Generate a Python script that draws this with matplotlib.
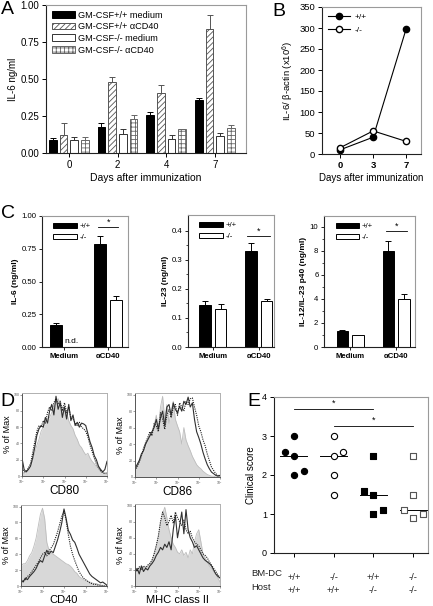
import numpy as np
import matplotlib
matplotlib.use("Agg")
import matplotlib.pyplot as plt

plt.rcParams['font.family'] = ['Liberation Sans', 'DejaVu Sans']
plt.rcParams['hatch.linewidth'] = 0.6
plt.rcParams['mathtext.fontset'] = 'custom'
plt.rcParams['mathtext.rm'] = 'Liberation Sans'

W, H = 433, 606
fig = plt.figure(figsize=(W / 100, H / 100), dpi=100)

def axpx(l, t, r, b):
    return fig.add_axes([l / W, 1 - b / H, (r - l) / W, (b - t) / H])

def style_spines(ax, light='#9a9a9a', lw=0.8):
    for s in ['top', 'right']:
        ax.spines[s].set_color(light)
        ax.spines[s].set_linewidth(lw)
    for s in ['left', 'bottom']:
        ax.spines[s].set_color('#222222')
        ax.spines[s].set_linewidth(lw)

# ---------------- DATA ----------------
# Panel A
a_days = ['0', '2', '4', '7']
a_series = ['GM-CSF+/+ medium', 'GM-CSF+/+ \u03b1CD40', 'GM-CSF-/- medium', 'GM-CSF-/- \u03b1CD40']
a_wt_med = [0.09, 0.175, 0.26, 0.355]
a_wt_med_err = [0.01, 0.025, 0.02, 0.015]
a_wt_cd40 = [0.12, 0.48, 0.405, 0.835]
a_wt_cd40_err = [0.085, 0.035, 0.055, 0.10]
a_ko_med = [0.09, 0.13, 0.095, 0.115]
a_ko_med_err = [0.02, 0.03, 0.025, 0.02]
a_ko_cd40 = [0.085, 0.23, 0.16, 0.17]
a_ko_cd40_err = [0.02, 0.025, 0.005, 0.02]

# Panel B
b_days = ['0', '3', '7']
b_wt = [10, 40, 298]
b_ko = [15, 55, 30]

# Panel C
c_groups = ['Medium', '\u03b1CD40']
c1_wt = [0.165, 0.79]
c1_wt_err = [0.015, 0.06]
c1_ko = [0.0, 0.36]
c1_ko_err = [0.0, 0.03]
c2_wt = [0.145, 0.33]
c2_wt_err = [0.013, 0.03]
c2_ko = [0.132, 0.157]
c2_ko_err = [0.015, 0.008]
c3_wt = [1.35, 8.0]
c3_wt_err = [0.05, 0.85]
c3_ko = [1.0, 4.0]
c3_ko_err = [0.0, 0.45]

# Panel D (histograms, log10 fluorescence 0..4, % of max)
d_x = np.linspace(0, 4, 41)
d_markers = ['CD80', 'CD86', 'CD40', 'MHC class II']
d_gray = {
    'CD80': [5, 3, 5, 8, 12, 18, 28, 38, 45, 55, 60, 65, 70, 72, 78, 85, 90, 95, 88, 85, 80,
             78, 68, 62, 58, 50, 45, 38, 35, 30, 26, 28, 22, 18, 15, 12, 10, 8, 5, 3, 2],
    'CD86': [8, 15, 20, 25, 30, 38, 45, 52, 55, 62, 75, 60, 85, 98, 70, 88, 65, 80, 92, 70, 62,
             55, 40, 60, 45, 38, 32, 25, 20, 15, 12, 10, 7, 5, 3, 2, 1, 1, 0, 0, 0],
    'CD40': [25, 28, 28, 32, 38, 42, 50, 60, 75, 90, 98, 85, 55, 45, 42, 40, 38, 36, 34, 32, 30,
             28, 27, 25, 22, 18, 16, 12, 10, 8, 7, 6, 5, 4, 3, 3, 2, 1, 1, 0, 0],
    'MHC class II': [20, 18, 22, 20, 22, 24, 25, 28, 32, 40, 50, 62, 78, 90, 98, 85, 70, 60, 52, 48, 42,
                     40, 45, 38, 42, 35, 45, 40, 55, 65, 70, 55, 40, 35, 30, 25, 22, 18, 15, 10, 5],
}
d_solid = {
    'CD80': [22, 8, 5, 8, 12, 22, 35, 50, 58, 62, 60, 72, 65, 80, 88, 75, 98, 82, 90, 72, 85,
             70, 88, 68, 75, 62, 66, 60, 65, 64, 62, 52, 42, 35, 25, 20, 12, 8, 5, 8, 18],
    'CD86': [10, 15, 20, 28, 32, 40, 45, 50, 55, 60, 70, 58, 72, 80, 62, 85, 88, 75, 90, 82, 78,
             86, 80, 92, 88, 97, 85, 90, 70, 55, 48, 40, 30, 22, 15, 10, 6, 4, 2, 1, 2],
    'CD40': [8, 5, 10, 8, 12, 15, 18, 22, 28, 32, 30, 38, 45, 40, 44, 42, 50, 58, 68, 80, 97,
             85, 70, 65, 58, 55, 48, 40, 35, 30, 25, 20, 15, 12, 10, 8, 6, 4, 5, 3, 1],
    'MHC class II': [18, 22, 15, 25, 18, 22, 20, 25, 28, 32, 38, 42, 48, 45, 52, 48, 55, 45, 70, 88, 60,
                     75, 92, 65, 95, 70, 60, 55, 48, 50, 45, 40, 35, 32, 30, 28, 25, 20, 15, 12, 10],
}
d_dotted = {
    'CD80': [10, 5, 6, 10, 15, 28, 42, 55, 62, 60, 68, 65, 78, 85, 80, 90, 95, 88, 92, 80, 90,
             78, 85, 72, 70, 65, 62, 66, 60, 58, 55, 48, 38, 30, 22, 15, 10, 6, 4, 3, 4],
    'CD86': [8, 12, 18, 25, 35, 42, 48, 55, 50, 65, 62, 55, 78, 70, 58, 75, 82, 72, 85, 88, 75,
             90, 85, 80, 92, 88, 95, 96, 85, 75, 62, 55, 45, 38, 28, 20, 12, 8, 4, 2, 1],
    'CD40': [5, 6, 8, 12, 14, 18, 22, 26, 30, 35, 40, 42, 38, 44, 48, 52, 60, 68, 78, 88, 95,
             82, 65, 50, 40, 32, 25, 18, 14, 10, 8, 6, 4, 3, 2, 2, 1, 1, 0, 0, 0],
    'MHC class II': [22, 18, 24, 20, 25, 22, 26, 28, 32, 40, 50, 62, 80, 92, 85, 75, 80, 88, 78, 92, 85,
                     80, 75, 82, 70, 65, 68, 60, 55, 52, 50, 45, 40, 38, 35, 30, 26, 22, 18, 14, 10],
}

# Panel E
e_bmdc = ['+/+', '-/-', '+/+', '-/-']
e_host = ['+/+', '+/+', '-/-', '-/-']
e_scores = [[2.6, 3.0, 2.5, 2.0, 2.1],
            [3.0, 2.5, 2.6, 2.0, 1.5],
            [2.5, 1.6, 1.5, 1.0, 1.1],
            [2.5, 1.5, 1.1, 0.9, 1.0]]
e_jitter = [[-0.23, 0, 0, 0, 0.25],
            [0, 0, 0.24, 0, 0],
            [0, -0.23, 0, 0, 0.25],
            [0, 0, -0.24, 0, 0.24]]
e_medians = [2.5, 2.5, 1.5, 1.1]

# ---------------- PANEL A ----------------
axA = axpx(46, 5, 246, 153)
style_spines(axA)
xg = np.arange(len(a_days))
pitch, bw = 0.22, 0.155
vals = [a_wt_med, a_wt_cd40, a_ko_med, a_ko_cd40]
errs = [a_wt_med_err, a_wt_cd40_err, a_ko_med_err, a_ko_cd40_err]
faces = ['black', 'white', 'white', 'white']
edges = ['black', '#555555', '#333333', '#666666']
hatches = [None, '//////', None, '++++']
for i in range(4):
    xs = xg + (i - 1.5) * pitch
    axA.bar(xs, vals[i], bw, color=faces[i], edgecolor=edges[i], hatch=hatches[i],
            linewidth=0.7, label=a_series[i], zorder=2)
    axA.errorbar(xs, vals[i], yerr=[np.zeros(4), errs[i]], fmt='none',
                 ecolor=edges[i], elinewidth=0.7, capsize=2, capthick=0.7, zorder=1)
axA.set_xlim(-0.47, 3.64)
axA.set_ylim(0, 1.0)
axA.set_yticks([0, 0.25, 0.5, 0.75, 1.0])
axA.set_yticklabels(['0.00', '0.25', '0.50', '0.75', '1.00'])
axA.set_xticks(xg)
axA.set_xticklabels(a_days)
axA.tick_params(labelsize=7, length=3, width=0.7, pad=2)
axA.set_ylabel('IL-6 ng/ml', fontsize=7, labelpad=2)
axA.set_xlabel('Days after immunization', fontsize=7.5, labelpad=2)
axA.legend(loc='upper left', frameon=False, fontsize=6.6, handlelength=2.6, handleheight=0.75,
           handletextpad=0.3, labelspacing=0.3, borderaxespad=0.2, bbox_to_anchor=(0.0, 1.0))

# ---------------- PANEL B ----------------
axB = axpx(322, 7, 421, 154)
style_spines(axB)
xb = np.arange(len(b_days))
axB.plot(xb, b_wt, '-o', color='black', lw=0.8, ms=4.5, mfc='black', mec='black', label='+/+')
axB.plot(xb, b_ko, '-o', color='black', lw=0.8, ms=4.5, mfc='white', mec='black', label='-/-')
axB.set_xlim(-0.55, 2.45)
axB.set_ylim(0, 350)
axB.set_yticks(np.arange(0, 351, 50))
axB.set_xticks(xb)
axB.set_xticklabels(b_days, fontweight='bold')
axB.tick_params(labelsize=6.8, length=3, width=0.7, pad=2)
axB.set_ylabel('IL-6/ \u03b2-actin (x10$^6$)', fontsize=6.8, labelpad=2)
axB.set_xlabel('Days after immunization', fontsize=7, labelpad=2)
axB.legend(loc='upper left', frameon=False, fontsize=6, handlelength=2.6,
           handletextpad=0.6, labelspacing=0.6, borderaxespad=0.3)

# ---------------- PANEL C ----------------
def panel_c(ax, wt, wte, ko, koe, ylim, yticks, yticklabels, ylabel, xlim, off, bw, sig_y, sig_half, minor=None):
    style_spines(ax)
    xc = np.arange(2)
    ax.bar(xc - off, wt, bw, color='black', edgecolor='black', lw=0.7, label='+/+', zorder=2)
    ax.bar(xc + off, ko, bw, color='white', edgecolor='black', lw=0.7, label='-/-', zorder=2)
    ax.errorbar(xc - off, wt, yerr=[np.zeros(2), wte], fmt='none', ecolor='black',
                elinewidth=0.7, capsize=2, capthick=0.7, zorder=1)
    kmask = np.array(koe) > 0
    ax.errorbar((xc + off)[kmask], np.array(ko)[kmask], yerr=[np.zeros(kmask.sum()), np.array(koe)[kmask]],
                fmt='none', ecolor='black', elinewidth=0.7, capsize=2, capthick=0.7, zorder=1)
    ax.set_xlim(*xlim)
    ax.set_ylim(*ylim)
    ax.set_yticks(yticks)
    ax.set_yticklabels(yticklabels)
    if minor is not None:
        ax.set_yticks(minor, minor=True)
    ax.set_xticks(xc)
    ax.set_xticklabels(c_groups, fontweight='bold')
    ax.tick_params(labelsize=5.6, length=2.5, width=0.6, pad=1.5)
    ax.tick_params(which='minor', length=1.5, width=0.5)
    ax.set_ylabel(ylabel, fontsize=6, fontweight='bold', labelpad=2)
    ax.plot([1 - sig_half, 1 + sig_half], [sig_y, sig_y], color='black', lw=0.6)
    ax.text(1, sig_y, '*', ha='center', va='bottom', fontsize=6.5)
    ax.legend(loc='upper left', frameon=False, fontsize=5.6, handlelength=3.0, handleheight=0.6,
              handletextpad=0.4, labelspacing=0.5, borderaxespad=0.5, bbox_to_anchor=(0.05, 1.0))
    return ax

axC1 = axpx(42, 216, 128, 347)
panel_c(axC1, c1_wt, c1_wt_err, c1_ko, c1_ko_err, (0, 1.0), [0, 0.25, 0.5, 0.75, 1.0],
        ['0.00', '0.25', '0.50', '0.75', '1.00'], 'IL-6 (ng/ml)', (-0.5, 1.45), 0.18, 0.27, 0.915, 0.23)
axC1.text(0.18, 0.015, 'n.d.', ha='center', va='bottom', fontsize=6)

axC2 = axpx(188, 215, 274, 347)
panel_c(axC2, c2_wt, c2_wt_err, c2_ko, c2_ko_err, (0, 0.455), [0, 0.1, 0.2, 0.3, 0.4],
        ['0.0', '0.1', '0.2', '0.3', '0.4'], 'IL-23 (ng/ml)', (-0.54, 1.33), 0.17, 0.25, 0.383, 0.25,
        minor=[0.05, 0.15, 0.25, 0.35])

axC3 = axpx(324, 216, 415, 347)
panel_c(axC3, c3_wt, c3_wt_err, c3_ko, c3_ko_err, (0, 10.9), [0, 2, 4, 6, 8, 10],
        ['0', '2', '4', '6', '8', '10'], 'IL-12/IL-23 p40 (ng/ml)', (-0.57, 1.41), 0.17, 0.25, 9.67, 0.23,
        minor=[1, 3, 5, 7, 9])

# ---------------- PANEL D ----------------
d_boxes = {'CD80': (22, 393, 107, 476), 'CD86': (135, 393, 220, 477),
           'CD40': (21, 505, 107, 586), 'MHC class II': (135, 504, 220, 586)}
d_label_y = {'CD80': 491, 'CD86': 492, 'CD40': 605, 'MHC class II': 605}
for m in d_markers:
    l, t, r, b = d_boxes[m]
    ax = axpx(l, t, r, b)
    for s in ax.spines.values():
        s.set_color('#b0b0b0')
        s.set_linewidth(0.7)
    ax.spines['left'].set_color('#555555')
    ax.spines['bottom'].set_color('#555555')
    ax.fill_between(d_x, 0, d_gray[m], color='#d8d8d8', lw=0)
    ax.plot(d_x, d_gray[m], color='#bdbdbd', lw=0.6)
    ax.plot(d_x, d_solid[m], color='#303030', lw=0.8)
    ax.plot(d_x, d_dotted[m], color='#202020', lw=0.8, ls=(0, (1, 1)))
    ax.set_xlim(0, 4)
    ax.set_ylim(0, 102)
    ax.set_xticks([0, 1, 2, 3, 4])
    ax.set_xticklabels(['10$^0$', '10$^1$', '10$^2$', '10$^3$', '10$^4$'])
    ax.set_yticks([0, 20, 40, 60, 80, 100])
    ax.tick_params(labelsize=2.5, length=1.2, width=0.4, pad=0.6, colors='#555555')
    ax.set_ylabel('% of Max', fontsize=6.5, labelpad=1)
    if b > 500:
        fig.text((l + r) / 2 / W, 1 - d_label_y[m] / H, m, ha='center', va='bottom', fontsize=8)
    else:
        fig.text((l + r) / 2 / W, 1 - d_label_y[m] / H, m, ha='center', va='center', fontsize=8.5)

# ---------------- PANEL E ----------------
axE = axpx(274, 397, 428, 553)
style_spines(axE)
e_face = ['black', 'white', 'black', 'white']
e_edge = ['black', 'black', 'black', '#555555']
e_mark = ['o', 'o', 's', 's']
for g in range(4):
    xs = g + np.array(e_jitter[g])
    axE.plot([g - 0.34, g + 0.34], [e_medians[g], e_medians[g]], color='black', lw=0.7, zorder=1)
    axE.scatter(xs, e_scores[g], s=20, marker=e_mark[g], facecolor=e_face[g],
                edgecolor=e_edge[g], linewidth=0.8, zorder=3)
axE.plot([0, 2], [3.69, 3.69], color='black', lw=0.6)
axE.text(1, 3.72, '*', ha='center', va='bottom', fontsize=6.5)
axE.plot([1, 3], [3.26, 3.26], color='black', lw=0.6)
axE.text(2, 3.30, '*', ha='center', va='bottom', fontsize=6.5)
axE.set_xlim(-0.5, 3.37)
axE.set_ylim(0, 4)
axE.set_yticks([0, 1, 2, 3, 4])
axE.set_xticks(range(4))
axE.set_xticklabels([])
axE.tick_params(labelsize=6.5, length=3, width=0.7, pad=2)
axE.set_ylabel('Clinical score', fontsize=7, labelpad=4)
for g in range(4):
    axE.text(g, -0.62, e_bmdc[g], ha='center', va='center', fontsize=6.8, color='#222222')
    axE.text(g, -0.95, e_host[g], ha='center', va='center', fontsize=6.8, color='#222222')
fig.text(251 / W, 1 - 574 / H, 'BM-DC', ha='left', va='center', fontsize=6.8, color='#222222')
fig.text(251 / W, 1 - 587 / H, 'Host', ha='left', va='center', fontsize=6.8, color='#222222')

# ---------------- Panel letters ----------------
for lbl, (x, y) in {'A': (1, 1), 'B': (272, 3), 'C': (1, 205), 'D': (0, 393), 'E': (247, 393)}.items():
    fig.text(x / W, 1 - y / H, lbl, ha='left', va='top', fontsize=14)

fig.savefig('out.png', dpi=100)
